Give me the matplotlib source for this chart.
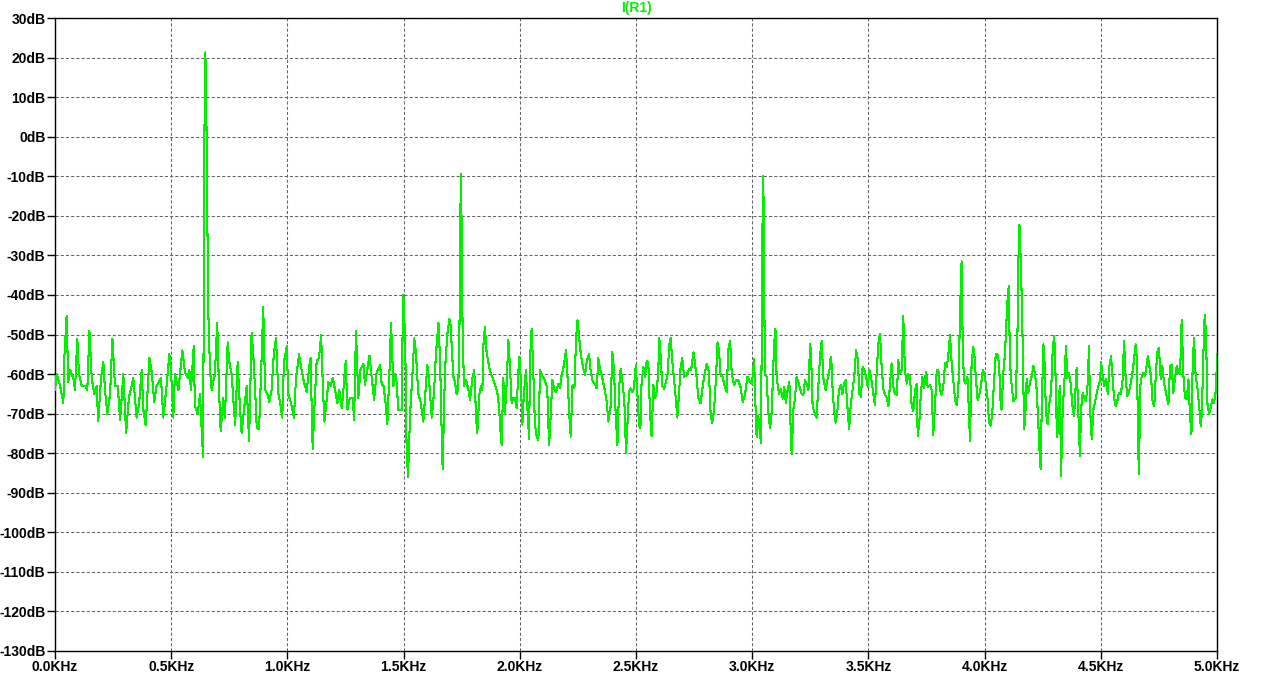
"""LTspice style FFT plot of I(R1), redrawn with matplotlib"""

import numpy as np
import matplotlib.pyplot as plt

# spectrum, frequency in Hz and level in dB,
# split in a few chunks so the lists stay readable

freq_a = [0, 7, 22, 36, 40, 50, 57, 65, 79, 86, 96, 103, 115, 129, 139, 148, 158, 169, 179, 186,
          198, 208, 215, 225, 237, 247, 258, 270, 280, 294, 306, 318, 337, 351, 361, 373, 380, 390, 406, 416,
          427, 437, 456, 466, 480, 492, 499, 509, 516, 531, 548, 559, 571, 578, 585, 597, 602, 614, 624, 631,
          637, 639, 642, 647, 651, 655, 660, 667, 674, 688, 698, 706, 713, 724, 731, 743, 749, 760, 775, 786,
          796, 803, 815, 825, 835]
db_a = [-64, -60, -63, -67.4, -56, -45.3, -62, -59, -61, -64, -51, -60, -63, -63, -64, -49, -61, -65, -63, -72,
        -61, -57, -64, -70, -65, -51, -63, -63, -71.6, -60, -75, -66, -61, -71, -68, -59, -69, -73, -56, -59.5,
        -67, -63, -61, -71, -63, -55, -59, -71, -60, -64, -54, -59.5, -61, -59, -64, -53, -68, -70, -65, -74,
        -81, -56, -4, 21.3, 8, -18.5, -45, -59, -64, -60, -47, -64.5, -74.5, -66, -71, -52, -56.6, -60, -73, -57,
        -68.7, -75, -68, -63, -77]

freq_b = [846, 853, 861, 868, 878, 889, 896, 904, 914, 922, 932, 942, 951, 961, 971, 978, 985, 997, 1004, 1018,
          1028, 1037, 1050, 1061, 1071, 1083, 1094, 1100, 1106, 1109, 1116, 1126, 1136, 1145, 1152, 1159, 1169,
          1176, 1186, 1195, 1205, 1215, 1223, 1234, 1241, 1251, 1258, 1269, 1281, 1287, 1295, 1305, 1315, 1327,
          1334, 1344, 1353, 1363, 1373, 1384, 1399, 1406, 1413, 1424, 1430, 1439, 1446, 1456, 1464, 1470, 1477,
          1492, 1496, 1499, 1503, 1509, 1513, 1519, 1528, 1538, 1546, 1553, 1563, 1573, 1585, 1592, 1602, 1609,
          1621, 1631, 1639, 1650, 1657, 1665, 1668, 1678, 1688, 1697]
db_b = [-49.5, -55, -64, -73.5, -74, -56, -43, -64, -65, -67, -64, -54.5, -51, -65, -68, -71, -57, -53, -65, -68,
        -71, -61, -55, -59, -62, -64.5, -58, -56, -73, -79, -68.7, -56.6, -56, -50, -62, -72, -66.6,
        -62, -63, -61, -64, -67.4, -64, -68.7, -64, -56.6, -69, -66, -66, -71.6, -49, -66, -58.7, -57.4,
        -62.8, -58.7, -55.3, -61, -66.6, -59.5, -57.8, -62.8, -62.8, -68, -72.7, -59.5, -47, -63, -60, -62, -69,
        -69, -47.4, -40, -45.3, -59.5, -79.5, -86, -70, -60, -51, -54.5, -65, -67, -72, -66, -57.8, -61,
        -71, -64.5, -55, -47, -56.6, -78, -84, -59, -50, -46]

freq_c = [1703, 1707, 1714, 1721, 1728, 1735, 1740, 1746, 1750, 1754, 1760, 1769, 1779, 1786, 1796, 1804, 1812,
          1817, 1826, 1833, 1839, 1843, 1850, 1857, 1865, 1872, 1883, 1893, 1903, 1910, 1918, 1922, 1929, 1936,
          1943, 1951, 1958, 1965, 1972, 1979, 1986, 1994, 1998, 2004, 2011, 2018, 2027, 2032, 2040, 2044, 2051,
          2058, 2065, 2073, 2080, 2087, 2098, 2108, 2118, 2126, 2130, 2140, 2147, 2156, 2166, 2173, 2180, 2190,
          2199, 2206, 2213, 2219, 2227, 2235, 2242, 2248, 2256, 2263, 2273, 2281, 2288, 2298, 2305, 2314, 2321,
          2331, 2338, 2345, 2355, 2364, 2374, 2381, 2391, 2398, 2405, 2412, 2420, 2427, 2434, 2443, 2450, 2457,
          2463, 2470, 2477, 2484, 2491, 2499, 2506, 2513]
db_c = [-48, -53, -60.6, -62, -65, -64, -50.7, -9.4, -23, -50, -63, -61.5, -64, -66.5, -61, -59, -71,
        -75, -65, -63, -64, -53, -48, -54.4, -57, -59.4, -61, -62.7, -64.5, -68, -75.4, -78, -61, -70,
        -62.7, -51.4, -58.6, -67.4, -66, -66, -68.6, -59.4, -55.6, -61, -72.8, -64.5, -59, -68, -76.3, -56, -48.5,
        -59.4, -72.8, -75.8, -76.6, -59, -60.7, -61.5, -63.6, -78, -74, -61.5, -63.6, -64.5, -62.4, -63.6, -60.2,
        -57.7, -54, -61.5, -70.3, -75.8, -62.7, -63.6, -51, -46.4, -51, -55.2, -58.6, -60.2, -56.9, -54.8, -59.4,
        -62, -62.4, -63.6, -56, -58.6, -61, -63.6, -67, -72, -68, -54.4, -58.6, -69.5, -78, -63.6, -58.6, -62.7,
        -67, -80, -72.8, -64.5, -63.6, -64.5, -63.6, -57.7, -65, -72.8]

freq_d = [2519, 2524, 2532, 2539, 2546, 2553, 2560, 2567, 2575, 2582, 2589, 2596, 2600, 2606, 2613, 2621, 2629,
          2636, 2643, 2649, 2656, 2664, 2671, 2678, 2685, 2692, 2699, 2707, 2718, 2728, 2737, 2747, 2754, 2761,
          2768, 2778, 2785, 2793, 2804, 2814, 2821, 2828, 2836, 2844, 2851, 2857, 2864, 2873, 2880, 2890, 2897,
          2905, 2912, 2922, 2930, 2940, 2950, 2959, 2969, 2979, 2991, 2999, 3008, 3015, 3019, 3026, 3034, 3038,
          3042, 3046, 3050, 3053, 3057, 3062, 3069, 3077, 3084, 3094, 3100, 3105, 3115, 3123, 3131, 3138, 3145,
          3154, 3160, 3166, 3170, 3177, 3184, 3191, 3199, 3206, 3213, 3220, 3227, 3234, 3242, 3249, 3253, 3260,
          3270, 3277, 3285, 3292, 3299, 3306, 3316, 3325, 3332]
db_d = [-73.7, -62, -58.2, -60.7, -56.6, -57, -69.5, -75.7, -62.8, -66, -64.5, -59, -50.8, -55.3, -63, -63.7, -62,
        -60, -52.8, -50.8, -56.6, -61.6, -66, -71, -65, -58.2, -56, -60.7, -60.3, -58.7, -59, -54.5, -57.4, -61,
        -66, -67.4, -64, -60.7, -57.4, -59.5, -70, -72.4, -69, -61, -52, -54, -60.3, -60.7, -62.8, -64.5, -54,
        -51.6, -60, -62.8, -61.6, -61.6, -63.3, -67, -65.3, -60.7, -62, -62.4, -56.2, -69.5, -76, -70.7, -75.3, -77.4,
        -40, -10, -18, -48, -60.3, -60.7, -69.5, -73.7, -69.5, -52.8, -48.5, -60.7, -65, -63.7, -66.2, -63.3, -67.4,
        -63.3, -62, -75.3, -80.3, -69, -66.2, -60.7, -62, -63.7, -65, -65.3, -61.6, -62.4, -64, -52.4, -54.5, -68.2,
        -70, -71, -62.4, -55.3, -51.6, -61, -64, -61, -59.5]

freq_e = [3335, 3340, 3346, 3352, 3359, 3366, 3373, 3381, 3388, 3395, 3402, 3409, 3417, 3424, 3432, 3439, 3447,
          3454, 3461, 3468, 3475, 3482, 3490, 3497, 3504, 3511, 3518, 3528, 3536, 3543, 3550, 3557, 3564, 3571,
          3579, 3586, 3593, 3600, 3607, 3614, 3622, 3629, 3636, 3643, 3650, 3657, 3665, 3672, 3679, 3686, 3693,
          3701, 3708, 3712, 3719, 3725, 3732, 3739, 3748, 3755, 3765, 3772, 3779, 3787, 3794, 3801, 3808, 3815,
          3822, 3830, 3837, 3844, 3851, 3858, 3865, 3873, 3880, 3887, 3891, 3897, 3901, 3906, 3911, 3918, 3926,
          3933, 3937, 3944, 3951, 3956, 3963, 3970, 3977, 3984, 3992, 3999, 4005, 4012, 4019, 4026, 4033, 4040,
          4048, 4055, 4062, 4069, 4073, 4080, 4088, 4093, 4099, 4104, 4109, 4117, 4124, 4134]
db_e = [-56.5, -55.7, -64, -69, -72.3, -69.8, -64, -62.8, -65, -62.4, -61.5, -67.8, -74, -67.8, -64, -60.7, -54,
        -56, -65, -65.7, -58.2, -59, -60.7, -63.2, -59, -60.7, -63.6, -67.8, -59, -52.3, -49.8, -58.2, -63.6, -65.2,
        -66, -68.2, -62.4, -57.3, -63.2, -65, -65.2, -56.5, -59.8, -59, -45.3, -59, -62.4, -60, -60.7, -67.8, -69.4,
        -64, -62.4, -75.7, -72.3, -65.7, -60.7, -63.6, -59.4, -63.2, -62.8, -64, -75.3, -67.3, -59, -59, -64, -65.2,
        -63.2, -57.3, -58.2, -55.2, -50.2, -57, -61.5, -66.5, -67.8, -64, -53.2, -39, -31.5, -53, -61.5, -62.4, -60.7,
        -70, -77, -57.3, -53.2, -55.2, -61.5, -66.5, -65.2, -63.2, -59, -60, -62.4, -65.7, -72.3, -73, -70, -62.4,
        -55, -55, -57.3, -67.3, -69, -60, -54.6, -47.8, -41, -37.8, -57, -63.4, -66.8, -66]

freq_f = [4141, 4145, 4150, 4154, 4160, 4164, 4170, 4175, 4181, 4188, 4195, 4203, 4210, 4217, 4224, 4231, 4237,
          4241, 4246, 4253, 4257, 4264, 4271, 4279, 4286, 4293, 4299, 4303, 4309, 4313, 4319, 4324, 4329, 4336,
          4343, 4350, 4356, 4363, 4370, 4378, 4385, 4392, 4396, 4403, 4410, 4415, 4422, 4429, 4436, 4444, 4449,
          4454, 4461, 4468, 4475, 4482, 4489, 4497, 4501, 4508, 4515, 4522, 4530, 4537, 4544, 4550, 4557, 4564,
          4571, 4578, 4586, 4593, 4600, 4607, 4614, 4621, 4629, 4636, 4643, 4650, 4656, 4660, 4664, 4670, 4676,
          4683, 4690, 4697, 4702, 4709, 4716, 4723, 4730, 4738, 4743, 4750, 4758, 4765, 4772, 4779, 4786, 4791,
          4798, 4805, 4812, 4819, 4827, 4834, 4841, 4848, 4855, 4862, 4870, 4877, 4884, 4890, 4895, 4901, 4908,
          4915, 4923, 4930, 4935, 4941, 4947, 4953, 4958, 4966, 4973, 4980, 4987, 4996, 5000]
db_f = [-51.7, -32, -22.3, -28.6, -41.2, -53, -74, -70.6, -61.3, -64.7, -62.2, -60.5, -58, -60, -63.9, -72.3, -80.3,
        -84, -68, -52.5, -55.5, -69.7, -72.7, -67.2, -64.7, -53.8, -50.3, -54.6, -70.6, -76, -66.8, -63, -85.7, -69,
        -62.2, -53, -61, -59.7, -62.2, -68, -70.6, -63, -58.4, -69, -80.7, -69, -64.7, -66, -66.8, -62.2, -53,
        -69, -76.5, -69, -67.2, -65, -63, -61.8, -57, -60.5, -63, -61.3, -65, -58, -55.5, -60.5, -66, -68,
        -66.8, -64.7, -65, -62.2, -51.7, -61.3, -65.5, -64.7, -62.2, -59.7, -56.3, -52.5, -56.3, -76.5, -85.3, -63, -60.5,
        -59.7, -60.5, -58, -55.5, -58, -60.5, -67.2, -68, -58.8, -54.6, -53.3, -61.3, -58, -62.2, -64.3, -66.4, -67.6,
        -58, -57.6, -64.7, -61, -58, -59.7, -60, -46.2, -60, -66, -66.4, -61.3, -70.6, -75.2, -58.4, -50.8, -60.5,
        -63, -68, -73.1, -69.7, -55.5, -45, -49.6, -67.2, -70, -68.5, -66.4, -67.2, -63.9, -55]

x_ticks = [0.0, 0.5, 1.0, 1.5, 2.0, 2.5, 3.0, 3.5, 4.0, 4.5, 5.0]
y_ticks = list(range(-130, 31, 10))

TRACE = '#00f000'
GRID = '#646464'
FONT = 'Liberation Sans'

freq = np.array(freq_a + freq_b + freq_c + freq_d + freq_e + freq_f) / 1000.0
level = np.array(db_a + db_b + db_c + db_d + db_e + db_f)

W, H = 1276, 678
fig = plt.figure(figsize=(W / 100, H / 100), dpi=100)
ax = fig.add_axes([55 / W, 1 - 651 / H, (1217 - 55) / W, (651 - 18) / H])

ax.plot(freq, level, color=TRACE, lw=0.75, antialiased=False, zorder=3)

ax.set_xlim(0, 5)
ax.set_ylim(-130, 30)
ax.set_xticks(x_ticks)
ax.set_xticklabels([f'{v:.1f}KHz' for v in x_ticks])
ax.set_yticks(y_ticks)
ax.set_yticklabels([f'{v}dB' for v in y_ticks])

ax.set_axisbelow(True)
ax.grid(True, color=GRID, linestyle=(0, (3, 2)), lw=0.75)
for s in ax.spines.values():
    s.set_linewidth(1.0)
    s.set_color('black')

ax.tick_params(direction='out', length=6, width=1.0, pad=0.8, labelsize=10)
for lab in ax.get_xticklabels() + ax.get_yticklabels():
    lab.set_fontweight('bold')
    lab.set_family(FONT)

fig.text((55 + 1217) / 2 / W, 1 - 8 / H, 'I(R1)', color=TRACE, ha='center', va='center',
         fontsize=10, fontweight='bold', family=FONT)

fig.savefig('out.png', dpi=100)
